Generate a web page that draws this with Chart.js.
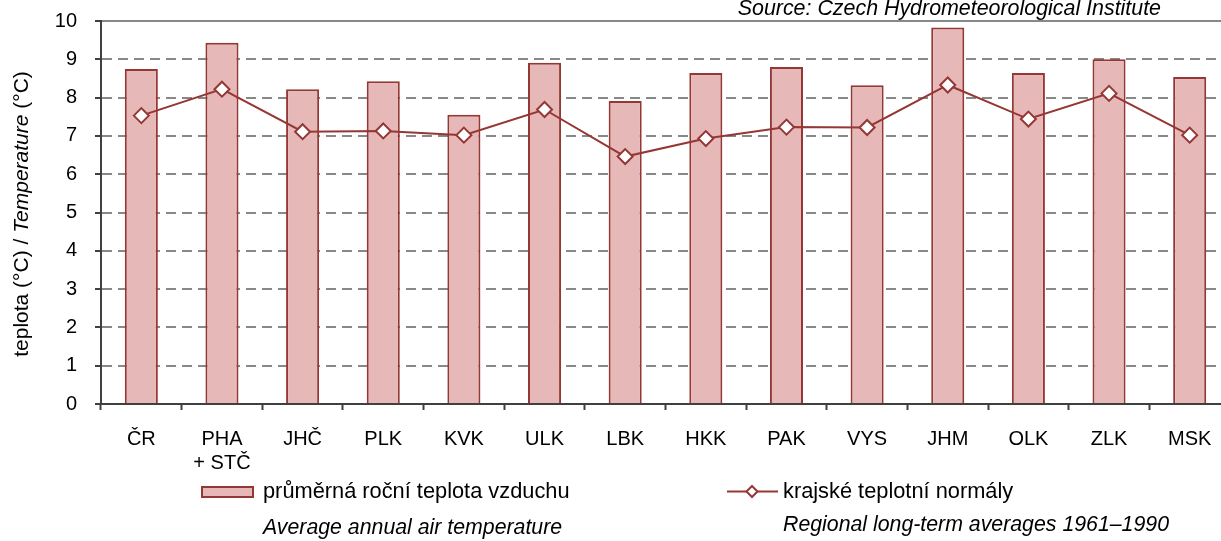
<!DOCTYPE html>
<html><head><meta charset="utf-8">
<script src="https://cdn.jsdelivr.net/npm/chart.js@4.4.1/dist/chart.umd.min.js"></script>
<style>html,body{margin:0;padding:0;overflow:hidden;background:#fff}canvas{display:block}</style>
</head><body>
<canvas id="c" width="1232" height="541"></canvas>
<script>
const categories = ['ČR', ['PHA', '+ STČ'], 'JHČ', 'PLK', 'KVK', 'ULK', 'LBK', 'HKK', 'PAK', 'VYS', 'JHM', 'OLK', 'ZLK', 'MSK'];
const annualTemp = [8.75, 9.43, 8.22, 8.43, 7.55, 8.91, 7.91, 8.64, 8.80, 8.32, 9.83, 8.64, 9.00, 8.54];
const normals = [7.53, 8.22, 7.11, 7.13, 7.02, 7.69, 6.46, 6.93, 7.23, 7.22, 8.33, 7.44, 8.11, 7.02];
const yMin = 0, yMax = 10, yStep = 1;
const seriesNamesCz = ['průměrná roční teplota vzduchu', 'krajské teplotní normály'];
const seriesNamesEn = ['Average annual air temperature', 'Regional long-term averages 1961–1990'];
const sourceText = 'Source: Czech Hydrometeorological Institute';

const DARK_RED = '#953735';
const PINK = '#E6B9B8';
const FONT = "'Liberation Sans', Arial, sans-serif";

function drawRuns(ctx, runs, x, y, align) {
  let total = 0;
  runs.forEach(r => { ctx.font = r.font; total += ctx.measureText(r.text).width; });
  let cx = align === 'center' ? x - total / 2 : (align === 'right' ? x - total : x);
  ctx.textAlign = 'left';
  runs.forEach(r => { ctx.font = r.font; ctx.fillText(r.text, cx, y); cx += ctx.measureText(r.text).width; });
}

const textPlugin = {
  id: 'texts',
  afterDraw(chart) {
    const ctx = chart.ctx;
    ctx.save();
    ctx.fillStyle = '#000';
    // Y axis title
    ctx.save();
    ctx.translate(22, 214);
    ctx.rotate(-Math.PI / 2);
    ctx.textBaseline = 'middle';
    drawRuns(ctx, [
      {text: 'teplota (°C) / ', font: '21px ' + FONT},
      {text: 'Temperature', font: 'italic 21px ' + FONT},
      {text: ' (°C)', font: '21px ' + FONT}
    ], 0, 0, 'center');
    ctx.restore();
    // Source
    ctx.textBaseline = 'alphabetic';
    ctx.font = 'italic 21.4px ' + FONT;
    ctx.textAlign = 'right';
    ctx.fillText(sourceText, 1161, 15);
    // Legend: bar swatch
    ctx.fillStyle = PINK;
    ctx.fillRect(202, 487, 51, 10);
    ctx.strokeStyle = DARK_RED;
    ctx.lineWidth = 2;
    ctx.strokeRect(202, 487, 51, 10);
    // Legend: line
    ctx.beginPath();
    ctx.moveTo(727, 491.5); ctx.lineTo(778, 491.5);
    ctx.stroke();
    ctx.beginPath();
    ctx.moveTo(752, 486); ctx.lineTo(757.5, 491.5); ctx.lineTo(752, 497); ctx.lineTo(746.5, 491.5); ctx.closePath();
    ctx.fillStyle = '#fff'; ctx.fill(); ctx.stroke();
    // Legend texts
    ctx.fillStyle = '#000';
    ctx.textAlign = 'left';
    ctx.textBaseline = 'middle';
    ctx.font = '21.8px ' + FONT;
    ctx.fillText(seriesNamesCz[0], 263, 492);
    ctx.fillText(seriesNamesCz[1], 783, 492);
    ctx.font = 'italic 21.3px ' + FONT;
    ctx.fillText(seriesNamesEn[0], 263, 528);
    ctx.fillText(seriesNamesEn[1], 783, 525);
    ctx.restore();
  }
};

new Chart(document.getElementById('c'), {
  data: {
    labels: categories,
    datasets: [
      {
        type: 'line',
        label: seriesNamesCz[1],
        data: normals,
        order: 0,
        borderColor: DARK_RED,
        borderWidth: 2,
        tension: 0,
        pointStyle: 'rectRot',
        pointRadius: 7.5,
        pointBackgroundColor: '#fff',
        pointBorderColor: DARK_RED,
        pointBorderWidth: 2
      },
      {
        type: 'bar',
        label: seriesNamesCz[0],
        data: annualTemp,
        order: 1,
        backgroundColor: PINK,
        borderColor: DARK_RED,
        borderWidth: 2,
        barPercentage: 0.41,
        categoryPercentage: 1.0
      }
    ]
  },
  options: {
    responsive: false,
    animation: false,
    layout: {autoPadding: false, padding: {left: 0, top: 21, right: 2, bottom: 0}},
    plugins: {legend: {display: false}, tooltip: {enabled: false}},
    scales: {
      x: {
        offset: true,
        grid: {
          display: true, drawOnChartArea: false, drawTicks: true, offset: true,
          tickLength: 6, tickColor: '#404040', tickWidth: 2
        },
        border: {display: true, color: '#404040', width: 2},
        ticks: {
          color: '#000', padding: 17, maxRotation: 0, autoSkip: false,
          font: {family: FONT, size: 20, lineHeight: '24px'}
        },
        afterFit(scale) { scale.height = 137; }
      },
      y: {
        min: yMin, max: yMax,
        grid: {
          color: '#888', lineWidth: 2, drawTicks: true, tickLength: 6,
          tickColor: '#404040', tickWidth: 2, tickBorderDash: []
        },
        border: {
          display: true, color: '#404040', width: 2,
          dash: (c) => (c.tick && c.tick.value === yMax) ? [] : [10, 6]
        },
        ticks: {
          stepSize: yStep, color: '#000', padding: 18,
          font: {family: FONT, size: 20, lineHeight: '2px'}
        },
        afterFit(scale) { scale.width = 101; }
      }
    }
  },
  plugins: [textPlugin]
});
</script>
</body></html>
